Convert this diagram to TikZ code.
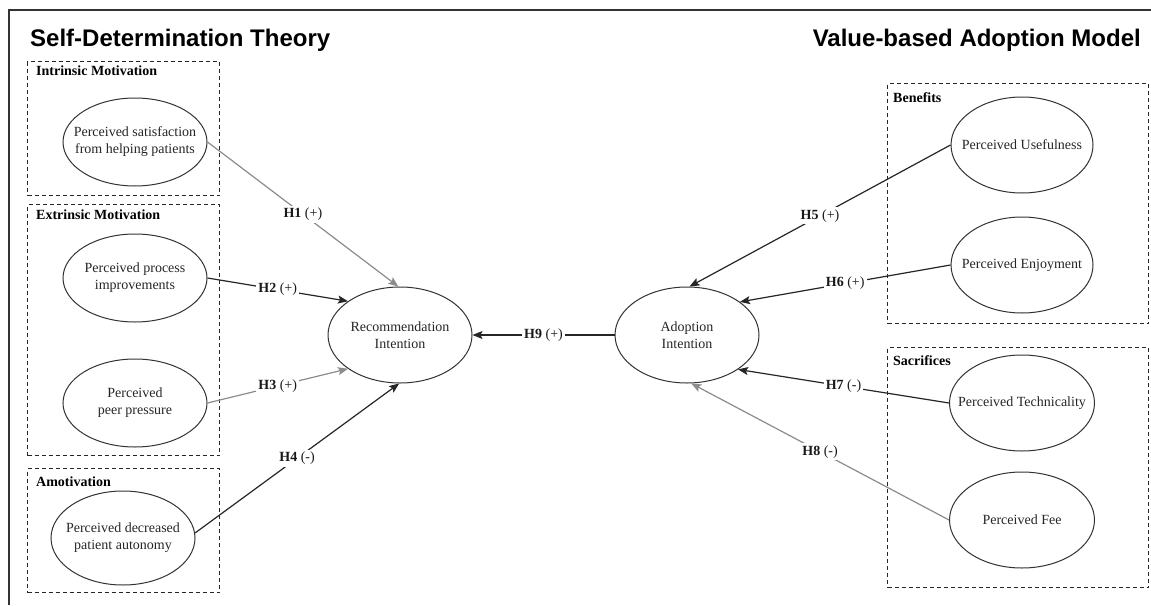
\documentclass[tikz,border=0pt]{standalone}
\usepackage{fontspec}
\setmainfont{Liberation Serif}
\newfontfamily\headfont{Liberation Sans}
\usetikzlibrary{shapes.geometric,arrows.meta,positioning}

\newcommand\ellfont{\fontsize{14}{17}\selectfont}
\newcommand\grpfont{\fontsize{14}{16}\selectfont\bfseries}

\tikzset{
  construct/.style={ellipse, draw=black!80, line width=1pt, minimum width=144pt,
    minimum height=88pt, inner xsep=-20pt, inner ysep=0pt, align=center,
    font=\ellfont, text=black!85},
  tall/.style={minimum height=96pt},
  group/.style={rectangle, draw=black!85, dash pattern=on 4pt off 3pt,
    line width=1.1pt, inner sep=0pt, anchor=north west},
  grouplabel/.style={font=\grpfont, inner sep=0pt},
  title/.style={font=\headfont\bfseries\fontsize{24}{28}\selectfont, inner sep=0pt},
  hyp/.style={-{Stealth[length=10pt,width=8pt,inset=2pt]}, line width=1.2pt, draw=black!85},
  faint/.style={draw=black!45},
  hlabel/.style={midway, fill=white, inner sep=2pt, font=\ellfont, text=black!90},
}

\begin{document}
\begin{tikzpicture}[x=1pt, y=-1pt]
  \useasboundingbox (0,0) rectangle (1151,605);
  \fill[white] (0,0) rectangle (1151,605);

  % outer frame
  \draw[black!80, line width=1.5pt] (9,605) -- (9,10) -- (1151,10);

  % headings
  \node[title, anchor=base west] (sdt) at (30,46) {Self-Determination Theory};
  \node[title, anchor=base east] (vam) at (1141,46) {Value-based Adoption Model};

  % groups
  \node[group, minimum width=192pt, minimum height=134pt] (intr) at (27,61) {};
  \node[group, minimum width=192pt, minimum height=251pt] (extr) at (27,204) {};
  \node[group, minimum width=192pt, minimum height=124pt] (amot) at (27,468) {};
  \node[group, minimum width=261pt, minimum height=240pt] (bene) at (887,83) {};
  \node[group, minimum width=261pt, minimum height=240pt] (sacr) at (887,347) {};

  \node[grouplabel, below right=5pt and 9pt of intr.north west] (intrlab) {Intrinsic Motivation};
  \node[grouplabel, below right=6pt and 9pt of extr.north west] (extrlab) {Extrinsic Motivation};
  \node[grouplabel, below right=9pt and 9pt of amot.north west] (amotlab) {Amotivation};
  \node[grouplabel, below right=9pt and 6pt of bene.north west] (benelab) {Benefits};
  \node[grouplabel, below right=8pt and 6pt of sacr.north west] (sacrlab) {Sacrifices};

  % constructs
  \node[construct] (sat)  at (135,142) {Perceived satisfaction\\from helping patients};
  \node[construct] (proc) at (135,278) {Perceived process\\improvements};
  \node[construct] (peer) at (135,403) {Perceived\\peer pressure};
  \node[construct, minimum height=94pt] (auto) at (123,538) {Perceived decreased\\patient autonomy};

  \node[construct, tall] (rec)   at (400,335) {Recommendation\\Intention};
  \node[construct, tall] (adopt) at (687,335) {Adoption\\Intention};

  \node[construct, tall, minimum width=142pt] (use)  at (1022,145) {Perceived Usefulness};
  \node[construct, tall, minimum width=142pt] (enj)  at (1022,265) {Perceived Enjoyment};
  \node[construct, tall, minimum width=145pt] (tech) at (1022,403) {Perceived Technicality};
  \node[construct, tall, minimum width=145pt] (fee)  at (1022,520) {Perceived Fee};

  % hypotheses
  \draw[hyp, faint] (sat.east) -- node[hlabel]{\textbf{H1} (+)} (rec.92);
  \draw[hyp] (proc.east) -- node[hlabel]{\textbf{H2} (+)} (rec.147);
  \draw[hyp, faint] (peer.east) -- node[hlabel]{\textbf{H3} (+)} (rec.213);
  \draw[hyp] (auto.4) -- node[hlabel]{\textbf{H4} (-)} (rec.269);

  \draw[hyp] (use.west) -- node[hlabel]{\textbf{H5} (+)} (adopt.87);
  \draw[hyp] (enj.west) -- node[hlabel]{\textbf{H6} (+)} (adopt.32);
  \draw[hyp] (tech.west) -- node[hlabel]{\textbf{H7} (-)} (adopt.326);
  \draw[hyp, faint] (fee.west) -- node[hlabel]{\textbf{H8} (-)} (adopt.275);

  \draw[hyp] (adopt.west) -- node[hlabel]{\textbf{H9} (+)} (rec.east);
\end{tikzpicture}
\end{document}
